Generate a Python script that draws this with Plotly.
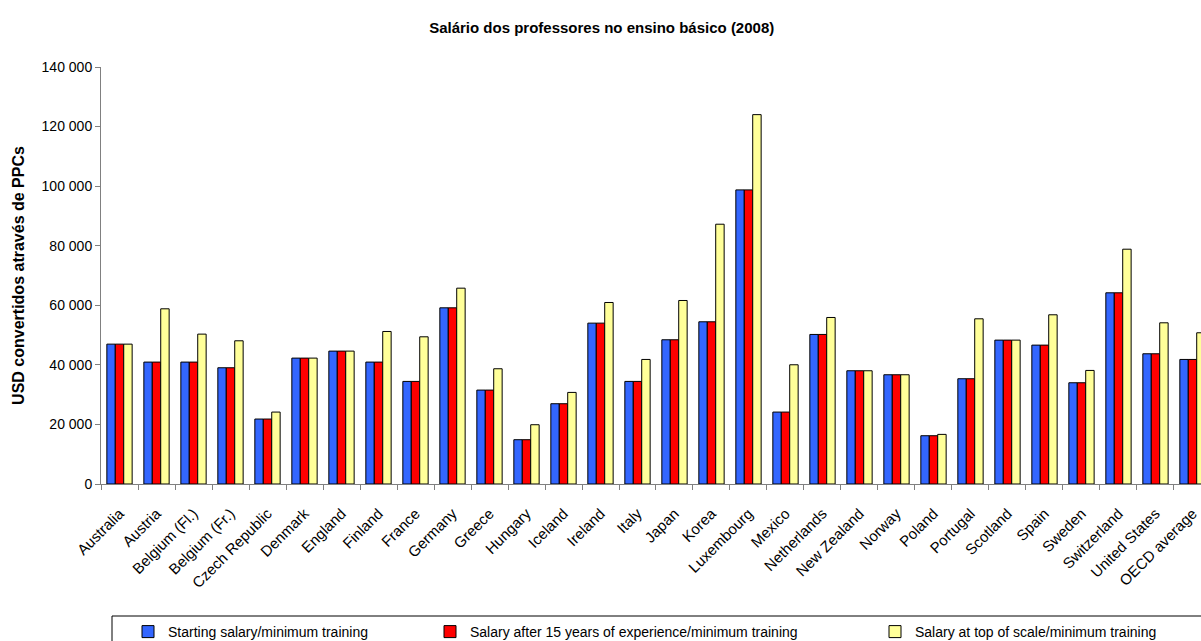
import plotly.graph_objects as go

categories = ["Australia", "Austria", "Belgium (Fl.)", "Belgium (Fr.)", "Czech Republic",
              "Denmark", "England", "Finland", "France", "Germany", "Greece", "Hungary",
              "Iceland", "Ireland", "Italy", "Japan", "Korea", "Luxembourg", "Mexico",
              "Netherlands", "New Zealand", "Norway", "Poland", "Portugal", "Scotland",
              "Spain", "Sweden", "Switzerland", "United States", "OECD average"]

starting = [46960, 40930, 40930, 39030, 21810, 42270, 44620, 40930, 34440, 59150,
            31530, 14870, 26950, 54010, 34440, 48420, 54460, 98740, 24150, 50210,
            38020, 36680, 16210, 35340, 48310, 46630, 33990, 64190, 43720, 41820]

after15 = [46960, 40930, 40930, 39030, 21810, 42270, 44620, 40930, 34440, 59150,
           31530, 14870, 26950, 54010, 34440, 48420, 54460, 98740, 24150, 50210,
           38020, 36680, 16210, 35340, 48310, 46630, 33990, 64190, 43720, 41820]

top_scale = [46960, 58820, 50320, 48080, 24150, 42270, 44620, 51210, 49420, 65750,
             38690, 19900, 30750, 60940, 41820, 61610, 87220, 124010, 40030, 55910,
             38020, 36680, 16660, 55460, 48310, 56810, 38130, 78830, 54120, 50770]

series_names = ["Starting salary/minimum training",
                "Salary after 15 years of experience/minimum training",
                "Salary at top of scale/minimum training"]
series_colors = ["#3366FF", "#FF0000", "#FFFF99"]
y_ticks = [0, 20000, 40000, 60000, 80000, 100000, 120000, 140000]

FONT = "Liberation Sans, Arial, sans-serif"

fig = go.Figure()
legend_ids = ["legend", "legend2", "legend3"]
for vals, name, col, lg in zip([starting, after15, top_scale], series_names, series_colors, legend_ids):
    fig.add_trace(go.Bar(
        x=categories, y=vals, name=name, legend=lg, showlegend=True,
        marker=dict(color=col, line=dict(color="#000000", width=1)),
    ))

W, H = 1201, 641
ML, MR, MT, MB = 101, 0, 67, 157
pw = W - ML - MR
ph = H - MT - MB

def px_x(p):
    return (p - ML) / pw

def px_y(p):
    return (H - MB - p) / ph

legend_common = dict(orientation="h", xanchor="left", yanchor="middle", visible=True,
                     font=dict(family=FONT, size=14, color="#000000"),
                     bgcolor="rgba(0,0,0,0)", borderwidth=0, itemwidth=30)
legend_y = px_y(632)

fig.update_layout(
    width=W, height=H,
    showlegend=True,
    margin=dict(l=ML, r=MR, t=MT, b=MB, pad=0, autoexpand=False),
    paper_bgcolor="white", plot_bgcolor="white",
    barmode="group", bargap=0.316, bargroupgap=0,
    separators=". ",
    font=dict(family=FONT, color="#000000"),
    title=dict(text="<b>Salário dos professores no ensino básico (2008)</b>",
               x=0.501, xanchor="center", xref="container",
               y=1 - 28 / H, yanchor="middle", yref="container",
               font=dict(family=FONT, size=15, color="#000000")),
    xaxis=dict(type="category", range=[-0.5, 29.23],
               showline=True, linecolor="#808080", linewidth=1,
               ticks="outside", tickson="boundaries", ticklen=5, tickcolor="#808080",
               tickangle=-45, tickfont=dict(family=FONT, size=15, color="#000000"),
               ticklabelstandoff=14, automargin=False,
               showgrid=False, zeroline=False),
    yaxis=dict(range=[0, 140000], tickvals=y_ticks, tickformat=",d",
               showline=True, linecolor="#808080", linewidth=1,
               ticks="outside", ticklen=5, tickcolor="#808080",
               tickfont=dict(family=FONT, size=14, color="#000000"),
               showgrid=False, zeroline=False, automargin=False,
               title=dict(text="<b>USD convertidos através de PPCs</b>",
                          font=dict(family=FONT, size=16, color="#000000"),
                          standoff=12)),
    legend=dict(x=px_x(128), y=legend_y, **legend_common),
    legend2=dict(x=px_x(430), y=legend_y, **legend_common),
    legend3=dict(x=px_x(875), y=legend_y, **legend_common),
    shapes=[dict(type="rect", xref="paper", yref="paper",
                 x0=px_x(112), x1=px_x(1215), y0=px_y(616), y1=px_y(660),
                 line=dict(color="#000000", width=1), fillcolor="rgba(0,0,0,0)",
                 layer="below")],
)

fig.write_html("out.html")
